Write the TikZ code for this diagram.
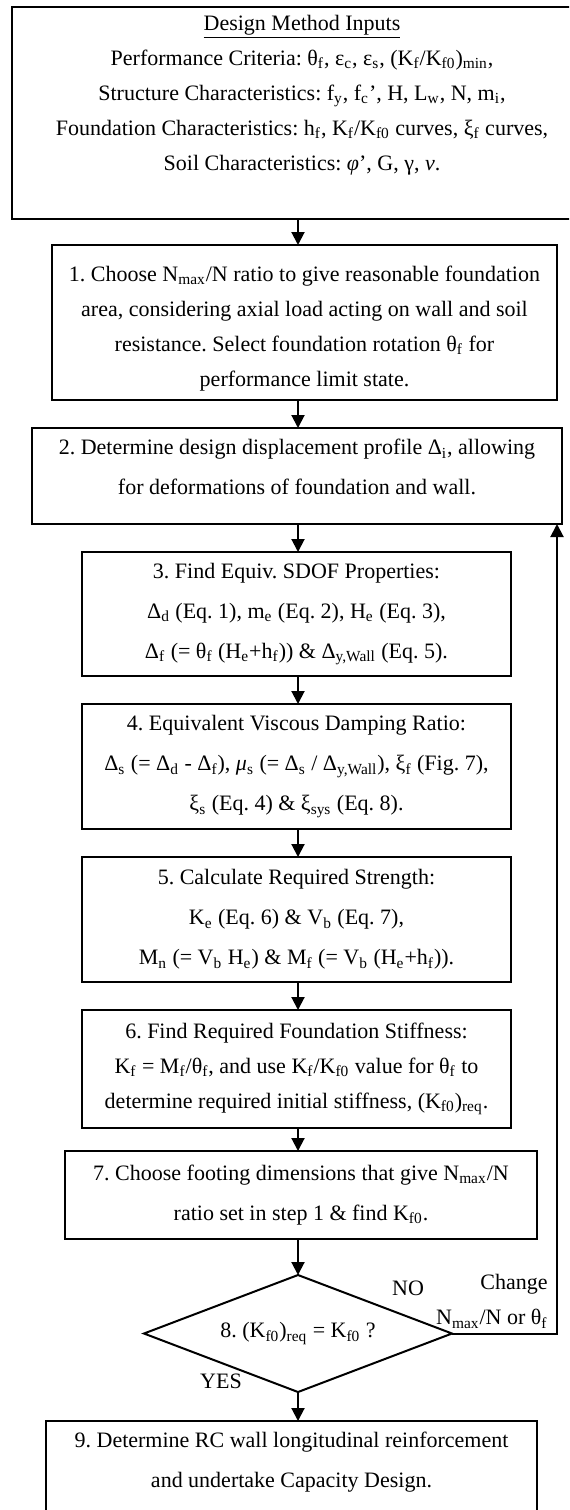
\documentclass[tikz,border=0pt]{standalone}
\usepackage{fontspec}
\setmainfont{Liberation Serif}
\usepackage{tikz}
\usetikzlibrary{arrows.meta,shapes.geometric}
\newcommand{\lo}[1]{\textsubscript{#1}}
\frenchspacing
\tikzset{font=\fontsize{11}{17.5}\selectfont}
\tikzset{stepbox/.style={draw, line width=1pt, inner sep=0pt, outer sep=0pt, align=center},
  loose/.style={font=\fontsize{11}{20}\selectfont},
  check/.style={diamond, aspect=2.63, draw, line width=1pt, inner sep=0pt, outer sep=0pt,
    minimum width=154pt, minimum height=58.5pt},
  flow/.style={-{Triangle[length=6.5pt,width=6.5pt]}, line width=1pt},
  tag/.style={inner sep=0pt}}

\begin{document}
\begin{tikzpicture}[x=0.5pt,y=-0.5pt]
  \clip (0,0) rectangle (569,1510);
  \coordinate (axis) at (298,0);
  \coordinate (back) at (557,0);

  \node (inputs) [stepbox, minimum width=290pt, minimum height=106pt] at (302,113)
    {\underline{Design Method Inputs}\\
     Performance Criteria: θ\lo{f}, ε\lo{c}, ε\lo{s}, (K\lo{f}/K\lo{f0})\lo{min},\\
     Structure Characteristics: f\lo{y}, f\lo{c}’, H, L\lo{w}, N, m\lo{i},\\
     Foundation Characteristics: h\lo{f}, K\lo{f}/K\lo{f0} curves, ξ\lo{f} curves,\\
     Soil Characteristics: \textit{φ}’, G, γ, \textit{ν}.\rule[-20.5pt]{0pt}{0pt}};
  \node (s1) [stepbox, minimum width=252.5pt, minimum height=77.5pt] at (304.5,322.5)
    {\rule{0pt}{13.5pt}1. Choose N\lo{max}/N ratio to give reasonable foundation\\
     area, considering axial load acting on wall and soil\\
     resistance. Select foundation rotation θ\lo{f} for\\
     performance limit state.};
  \node (s2) [stepbox, loose, minimum width=265pt, minimum height=48pt] at (297,476)
    {2. Determine design displacement profile Δ\lo{i}, allowing\\
     for deformations of foundation and wall.\rule[-9pt]{0pt}{0pt}};
  \node (s3) [stepbox, loose, minimum width=214.5pt, minimum height=62pt] at (296.5,614)
    {3. Find Equiv. SDOF Properties:\\
     Δ\lo{d} (Eq. 1), m\lo{e} (Eq. 2), H\lo{e} (Eq. 3),\\
     Δ\lo{f} (= θ\lo{f} (H\lo{e}+h\lo{f})) \& Δ\lo{y,Wall} (Eq. 5).};
  \node (s4) [stepbox, loose, minimum width=214.5pt, minimum height=62.5pt] at (296.5,766.5)
    {4. Equivalent Viscous Damping Ratio:\\
     Δ\lo{s} (= Δ\lo{d} - Δ\lo{f}), \textit{μ}\lo{s} (= Δ\lo{s} / Δ\lo{y,Wall}), ξ\lo{f} (Fig. 7),\\
     ξ\lo{s} (Eq. 4) \& ξ\lo{sys} (Eq. 8).};
  \node (s5) [stepbox, loose, minimum width=214.5pt, minimum height=62.5pt] at (296.5,919.5)
    {5. Calculate Required Strength:\\
     K\lo{e} (Eq. 6) \& V\lo{b} (Eq. 7),\\
     M\lo{n} (= V\lo{b} H\lo{e}) \& M\lo{f} (= V\lo{b} (H\lo{e}+h\lo{f})).};
  \node (s6) [stepbox, minimum width=214.5pt, minimum height=59pt] at (296.5,1069)
    {6. Find Required Foundation Stiffness:\\
     K\lo{f} = M\lo{f}/θ\lo{f}, and use K\lo{f}/K\lo{f0} value for θ\lo{f} to\\
     determine required initial stiffness, (K\lo{f0})\lo{req}.};
  \node (s7) [stepbox, loose, minimum width=236pt, minimum height=44pt] at (301,1195)
    {7. Choose footing dimensions that give N\lo{max}/N\\
     ratio set in step 1 \& find K\lo{f0}.};
  \node (s8) [check] at (298,1333.5) {8. (K\lo{f0})\lo{req} = K\lo{f0} ?};
  \node (s9) [stepbox, loose, minimum width=245.5pt, minimum height=48pt] at (291.5,1469)
    {9. Determine RC wall longitudinal reinforcement\\
     and undertake Capacity Design.\rule[-9.5pt]{0pt}{0pt}};

  \draw[flow] (inputs.south -| axis) -- (s1.north -| axis);
  \foreach \p/\q in {s1/s2, s2/s3, s3/s4, s4/s5, s5/s6, s6/s7, s7/s8, s8/s9}
    \draw[flow] (\p.south -| axis) -- (\q.north -| axis);
  \draw[flow] (s8.east) -- (s8.east -| back) -- (s2.south -| back);

  \node (no) [tag] at (408,1288) {NO};
  \node (yes) [tag] at (221,1381) {YES};
  \node (change) [tag, align=right, anchor=east] at (548,1301.5)
    {Change\\N\lo{max}/N or θ\lo{f}};
\end{tikzpicture}
\end{document}
